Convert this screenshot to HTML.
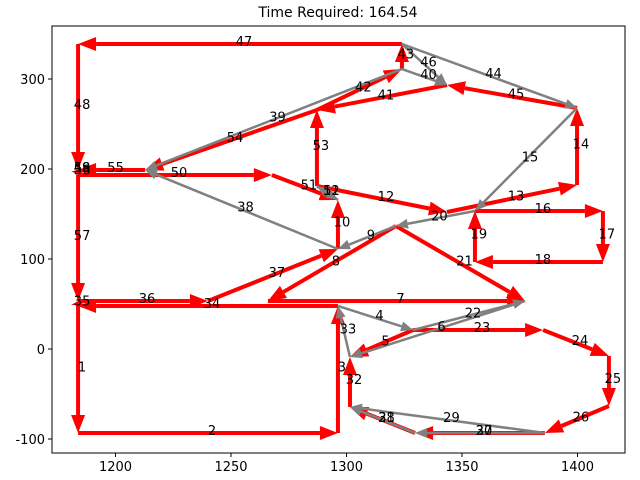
<!DOCTYPE html>
<html><head><meta charset="utf-8"><style>
body{margin:0;background:#fff;}
svg{display:block;font-family:"DejaVu Sans","Liberation Sans",sans-serif;}
</style></head><body>
<svg id="chart" width="640" height="480" viewBox="0 0 640 480" xmlns="http://www.w3.org/2000/svg">
<text x="338" y="17" font-size="14" text-anchor="middle">Time Required: 164.54</text>
<g id="marks"></g>
<rect x="52" y="26" width="573" height="427" fill="none" stroke="#000" stroke-width="1"/>
<g id="axes"></g>
</svg>
<script>
const nodeNames = ["A","B","C","C2","D","E","F","G","H","I","J","K","L","Mq","N","O","P","Q","R","S","T","U","V","W","X","Y","Z","Z2","AA","AB","AC","AD","AE","AF","AG","AH"];
const nodeX = [1183.8,1296.3,1296.3,1183.8,1183.8,1240.0,1266.0,1377.3,1296.3,1321.4,1328.8,1385.1,1413.6,1413.6,1385.9,1329.7,1301.5,1301.5,1355.6,1411.0,1411.0,1355.6,1343.5,1399.8,1399.8,1343.5,1324.0,1324.0,1183.8,1183.8,1183.8,1212.8,1267.7,1296.3,1287.2,1287.2];
const nodeY = [-93.3,-93.3,47.8,47.8,53.3,53.3,53.3,53.3,111.1,136.7,21.1,21.1,-7.8,-63.3,-93.3,-93.3,-64.4,-8.9,153.3,153.3,96.7,96.7,152.2,182.2,267.8,293.3,311.1,338.9,338.9,198.9,193.3,198.9,193.3,165.6,181.1,265.6];
const edgeLabels = ["1","2","3","4","5","6","7","8","9","10","11","12","13","14","15","16","17","18","19","20","21","22","23","24","25","26","27","28","29","30","31","32","33","34","35","36","37","38","39","40","41","42","43","44","45","46","47","48","49","50","51","52","53","54","55","56","57","58"];
const edgeFrom = ["C2","A","B","C","J","G","F","I","I","H","AG","AG","V","W","X","R","S","T","U","R","I","J","J","K","L","Mq","N","O","N","N","O","P","Q","C","C2","D","E","H","Z","Z","Y","AH","Z","Z2","X","Z2","Z2","AA","AB","AC","AE","AF","AG","AH","AD","AB","AC","AB"];
const edgeTo   = ["A","B","C","J","Q","Q","G","F","H","AF","AF","V","W","X","R","S","T","U","R","I","G","G","K","L","Mq","N","O","P","P","O","P","Q","C","C2","D","E","H","AD","AD","Y","AH","Z","Z2","X","Y","Y","AA","AB","AB","AE","AF","AG","AH","AD","AB","AC","D","AB"];
const edgeColor= ["red","red","red","gray","red","gray","red","red","gray","red","gray","red","red","red","gray","red","red","red","red","gray","red","gray","red","red","red","red","red","gray","gray","gray","red","red","gray","red","red","red","red","gray","gray","gray","red","red","red","gray","red","gray","red","red","red","red","red","gray","red","red","red","red","red","red"];
const xTicks = [1200,1250,1300,1350,1400];
const yTicks = [-100,0,100,200,300];

function sx(x){return 115.5+(x-1200)*2.31;}
function sy(y){return 349-y*0.9;}
const NS="http://www.w3.org/2000/svg";
const marks=document.getElementById('marks');
const axes=document.getElementById('axes');
function idx(n){return nodeNames.indexOf(n);}

function drawEdge(i){
  const a=idx(edgeFrom[i]), b=idx(edgeTo[i]);
  const x1=sx(nodeX[a]), y1=sy(nodeY[a]), x2=sx(nodeX[b]), y2=sy(nodeY[b]);
  const red=edgeColor[i]==="red";
  const col=red?"#ff0000":"#808080";
  const g=document.createElementNS(NS,'g');
  
  
  const dx=x2-x1, dy=y2-y1, L=Math.hypot(dx,dy);
  if(L>3){
    const ux=dx/L, uy=dy/L;
    const hl=Math.min(red?18:12, L*0.8), hw=red?7:5;
    const bx=x2-ux*hl, by=y2-uy*hl;
    const line=document.createElementNS(NS,'line');
    
    
    line.setAttribute('x1',x1);line.setAttribute('y1',y1);
    line.setAttribute('x2',bx);line.setAttribute('y2',by);
    line.setAttribute('stroke',col);line.setAttribute('stroke-width',red?4:2.5);
    g.appendChild(line);
    const head=document.createElementNS(NS,'polygon');
    
    
    head.setAttribute('points',x2+','+y2+' '+(bx-uy*hw)+','+(by+ux*hw)+' '+(bx+uy*hw)+','+(by-ux*hw));
    head.setAttribute('fill',col);
    g.appendChild(head);
  }
  marks.appendChild(g);
  return [(x1+x2)/2,(y1+y2)/2];
}
const mids=[];
edgeLabels.forEach((l,i)=>{ if(edgeColor[i]==="red") mids[i]=drawEdge(i); });
edgeLabels.forEach((l,i)=>{ if(edgeColor[i]!=="red") mids[i]=drawEdge(i); });
edgeLabels.forEach((l,i)=>{
  const t=document.createElementNS(NS,'text');
  
  
  t.setAttribute('x',mids[i][0]+4);t.setAttribute('y',mids[i][1]+2);
  t.setAttribute('font-size','13');t.setAttribute('text-anchor','middle');
  t.textContent=l; marks.appendChild(t);
});
xTicks.forEach(v=>{
  const x=sx(v);
  const tk=document.createElementNS(NS,'line');
  
  
  tk.setAttribute('x1',x);tk.setAttribute('x2',x);tk.setAttribute('y1',453);tk.setAttribute('y2',457);
  tk.setAttribute('stroke','#000');axes.appendChild(tk);
  const t=document.createElementNS(NS,'text');
  
  
  t.setAttribute('x',x);t.setAttribute('y',471);t.setAttribute('font-size','13');t.setAttribute('text-anchor','middle');
  t.textContent=v; axes.appendChild(t);
});
yTicks.forEach(v=>{
  const y=sy(v);
  const tk=document.createElementNS(NS,'line');
  
  
  tk.setAttribute('x1',48);tk.setAttribute('x2',52);tk.setAttribute('y1',y);tk.setAttribute('y2',y);
  tk.setAttribute('stroke','#000');axes.appendChild(tk);
  const t=document.createElementNS(NS,'text');
  
  
  t.setAttribute('x',45);t.setAttribute('y',y+5);t.setAttribute('font-size','13');t.setAttribute('text-anchor','end');
  t.textContent=v; axes.appendChild(t);
});
</script>
</body></html>
